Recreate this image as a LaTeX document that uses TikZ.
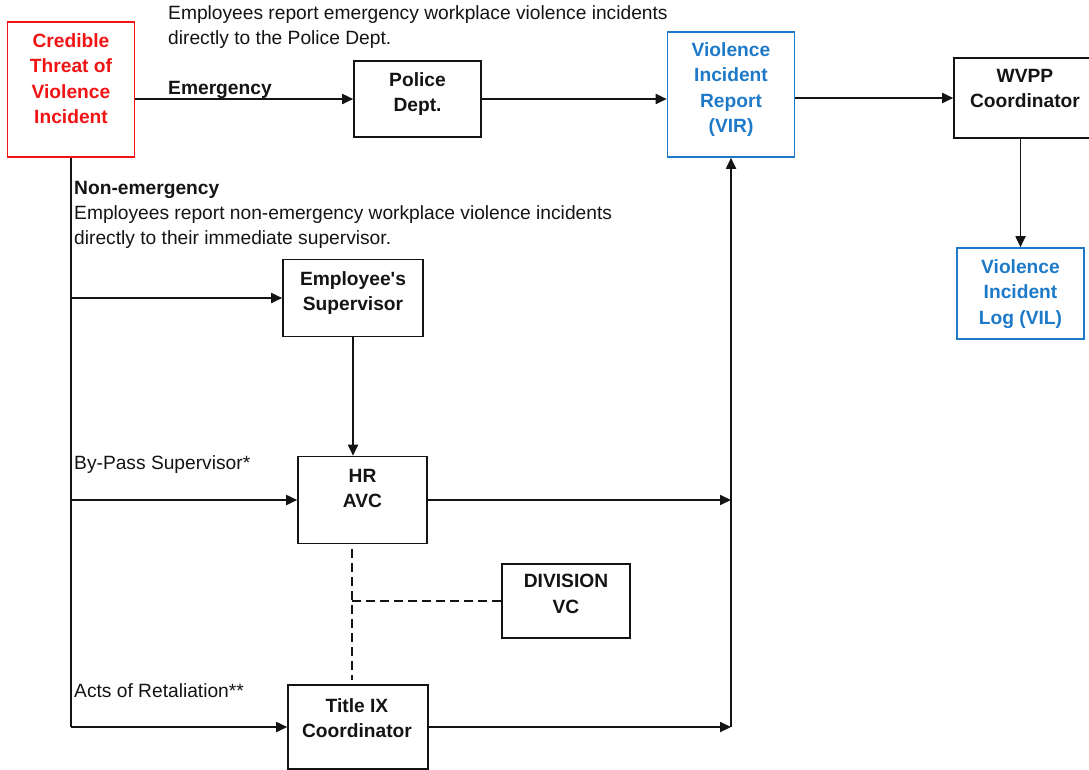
\documentclass[tikz,border=0pt]{standalone}
\usepackage{fontspec}
\setmainfont{Liberation Sans}[Ligatures=TeXOff]
\usetikzlibrary{arrows.meta}
\definecolor{vblue}{RGB}{30,122,200}
\definecolor{vred}{RGB}{240,20,20}
\definecolor{ink}{RGB}{20,20,20}
\begin{document}
\begin{tikzpicture}[x=1pt,y=-1pt,
  every node/.style={font=\fontsize{19.2}{25.5}\selectfont, inner sep=0pt, text=ink},
  box/.style={draw=ink, line width=1.6pt, rectangle},
  btext/.style={font=\bfseries\fontsize{19.2}{25.5}\selectfont, align=center, anchor=north},
  ptext/.style={align=left, anchor=north west},
  lbl/.style={anchor=base west},
  conn/.style={draw=ink, line width=1.8pt, -{Triangle[length=11pt,width=10pt]}},
  plain/.style={draw=ink, line width=1.8pt},
  dashedline/.style={draw=ink, line width=2.3pt, dash pattern=on 9pt off 5pt}]
\useasboundingbox (0,0) rectangle (1089,769);
\clip (0,0) rectangle (1089,769);

% boxes
\node[box, draw=vred, minimum width=127pt, minimum height=135pt] (cred) at (71,89.5) {};
\node[box, minimum width=127pt, minimum height=76pt] (police) at (417.5,99) {};
\node[box, draw=vblue, minimum width=127pt, minimum height=125pt] (vir) at (731,94.5) {};
\node[box, minimum width=142pt, minimum height=80pt] (wvpp) at (1025,98) {};
\node[box, draw=vblue, minimum width=127pt, minimum height=91pt] (vil) at (1020.5,293.5) {};
\node[box, minimum width=140pt, minimum height=77pt] (sup) at (353,298) {};
\node[box, minimum width=129pt, minimum height=87pt] (hr) at (362.5,500) {};
\node[box, minimum width=128pt, minimum height=74pt] (div) at (566,601) {};
\node[box, minimum width=140pt, minimum height=84pt] (title) at (358,727) {};

% box texts
\node[btext, text=vred] (credt) at (71,33) {Credible\\Threat of\\Violence\\Incident};
\node[btext] (policet) at (417.5,72) {Police\\Dept.};
\node[btext, text=vblue] (virt) at (731,42) {Violence\\Incident\\Report\\(VIR)};
\node[btext] (wvppt) at (1025,69) {WVPP\\Coordinator};
\node[btext, text=vblue] (vilt) at (1020.5,259) {Violence\\Incident\\Log (VIL)};
\node[btext] (supt) at (353,271) {Employee's\\Supervisor};
\node[btext] (hrt) at (362.5,469) {HR\\AVC};
\node[btext] (divt) at (566,574) {DIVISION\\VC};
\node[btext] (titlet) at (357,698) {Title IX\\Coordinator};

% free texts
\node[ptext] (note1) at (168,5) {Employees report emergency workplace violence incidents\\directly to the Police Dept.};
\node[lbl, font=\bfseries\fontsize{19.2}{25.5}\selectfont] (emerg) at (168,94) {Emergency};
\node[lbl, font=\bfseries\fontsize{19.2}{25.5}\selectfont] (nonemerg) at (74,194) {Non-emergency};
\node[ptext] (note2) at (74,205) {Employees report non-emergency workplace violence incidents\\directly to their immediate supervisor.};
\node[lbl] (bypass) at (74,469) {By-Pass Supervisor*};
\node[lbl] (acts) at (74,697) {Acts of Retaliation**};

% connectors
\draw[conn] (cred.east |- police.west) -- (police.west);
\draw[conn] (police.east) -- (police.east -| vir.west);
\draw[conn] (vir.east |- wvpp.west) -- (wvpp.west);
\draw[conn] (wvpp.south -| vil.north) -- (vil.north);
\draw[plain] (cred.south) -- (cred.south |- title.west);
\draw[conn] (cred.south |- sup.west) -- (sup.west);
\draw[conn] (cred.south |- hr.west) -- (hr.west);
\draw[conn] (cred.south |- title.west) -- (title.west);
\draw[conn] (sup.south) -- (sup.south |- hr.north);
\draw[conn] (hr.east) -- (hr.east -| vir.south);
\draw[conn] (title.east) -- (title.east -| vir.south);
\draw[conn] (title.east -| vir.south) -- (vir.south);

% dashed links
\coordinate (dtop) at (352,549);
\coordinate (dbot) at (352,680);
\coordinate (djoin) at (352,601);
\draw[dashedline] (dtop) -- (dbot);
\draw[dashedline] (djoin) -- (div.west);
\end{tikzpicture}
\end{document}
